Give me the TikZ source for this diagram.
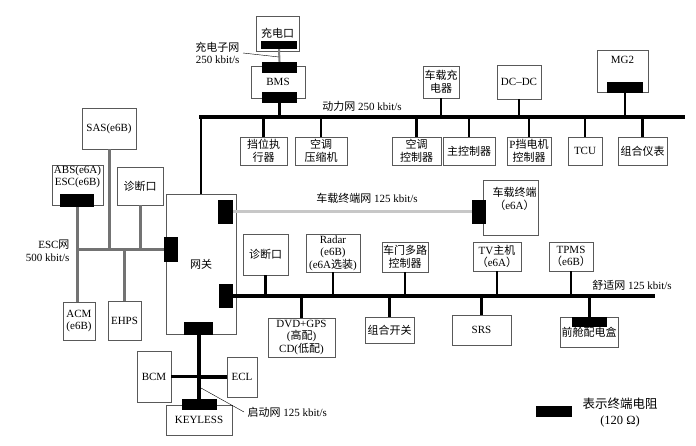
\documentclass[tikz,border=0pt]{standalone}
\usepackage{fontspec}
\setmainfont{Liberation Serif}
\newfontfamily\cjk{Noto Sans CJK SC}
\usepackage{tikz}

\begin{document}
\begin{tikzpicture}[x=1pt, y=-1pt,
    every node/.style = {font=\fontsize{11}{12.5}\selectfont},
    box/.style = {draw=black!65, line width=0.8pt, align=center, inner sep=0pt},
    sz/.style 2 args = {minimum width=#1, minimum height=#2},
    term/.style = {fill=black, inner sep=0pt},
    bus/.style = {line width=3.6pt},
    drop/.style = {line width=2.8pt},
    escbus/.style = {line width=3.6pt, black!55},
    escdrop/.style = {line width=3pt, black!55},
    tnet/.style = {line width=3pt, black!22},
    lbl/.style = {align=center}]
    \useasboundingbox (0,0) rectangle (696,446);
    % charging net
    \node[box, sz={43}{35}] (chg) at (277.5,33.5) {\cjk 充电口};
    \node[term, sz={36}{8}] (chgT) at (279,45) {};
    \node[box, sz={54}{32}] (bms) at (278,82) {BMS};
    \node[term, sz={35}{11}] (bmsT1) at (279.5,67.5) {};
    \node[term, sz={35}{11}] (bmsT2) at (279.5,97.5) {};
    \node[lbl, align=right, anchor=east] (chglbl) at (243,53) {{\cjk 充电子网}\\250 kbit/s};
    \coordinate (chgmid) at (279,57);
    \draw[line width=2pt, black!50] (chgT.south) -- (bmsT1.north);
    \draw[thin] (chglbl.east) -- (chgmid);
    % power net
    \coordinate (pwrL) at (199,117);
    \coordinate (pwrR) at (685,117);
    \node[lbl] (pwrlbl) at (362,106) {{\cjk 动力网} 250 kbit/s};
    \node[box, sz={36}{32}] (obc) at (441,82) {\cjk 车载充\\\cjk 电器};
    \node[box, sz={44}{34}] (dcdc) at (519,82) {DC--DC};
    \node[box, sz={51}{42}] (mg2) at (622.5,71) {MG2\\[10pt]};
    \node[term, sz={36}{11}] (mg2T) at (625,87.5) {};
    \node[box, sz={47}{28}] (gear) at (263.5,151) {\cjk 挡位执\\\cjk 行器};
    \node[box, sz={52}{28}] (acc) at (321,151) {\cjk 空调\\\cjk 压缩机};
    \node[box, sz={49}{28}] (acctl) at (416.5,151) {\cjk 空调\\\cjk 控制器};
    \node[box, sz={52}{28}] (mcu) at (469,151) {\cjk 主控制器};
    \node[box, sz={44}{28}] (pgear) at (529,151) {P{\cjk 挡电机}\\\cjk 控制器};
    \node[box, sz={34}{28}] (tcu) at (585,151) {TCU};
    \node[box, sz={49}{28}] (cluster) at (642.5,151) {\cjk 组合仪表};
    \draw[bus] (pwrL) -- (pwrR);
    \draw[drop] (bmsT2.south) -- (bmsT2.south |- pwrL);
    \draw[drop] (obc.south) -- (obc.south |- pwrL);
    \draw[drop] (dcdc.south) -- (dcdc.south |- pwrL);
    \draw[drop] (mg2T.south) -- (mg2T.south |- pwrL);
    \draw[drop] (gear.north) -- (gear.north |- pwrL);
    \draw[drop] (acc.north) -- (acc.north |- pwrL);
    \draw[drop] (acctl.north) -- (acctl.north |- pwrL);
    \draw[drop] (mcu.north) -- (mcu.north |- pwrL);
    \draw[drop] (pgear.north) -- (pgear.north |- pwrL);
    \draw[drop] (tcu.north) -- (tcu.north |- pwrL);
    \draw[drop] (cluster.north) -- (cluster.north |- pwrL);
    % gateway
    \node[box, sz={70}{140}] (gw) at (201,264) {\cjk 网关};
    \node[term, sz={14}{25}] (gwL) at (171,249.5) {};
    \node[term, sz={15}{24}] (gwT1) at (225.5,212) {};
    \node[term, sz={14}{24}] (gwT2) at (226,296) {};
    \node[term, sz={29}{13}] (gwB) at (198.5,328.5) {};
    \draw[drop] (gw.north) -- (gw.north |- pwrL);
    % ESC net
    \coordinate (escL) at (76,249.5);
    \node[box, sz={54}{41}] (sas) at (109,128.5) {SAS(e6B)};
    \node[box, sz={51}{40}] (abs) at (77.5,185) {ABS(e6A)\\ESC(e6B)\\[6pt]};
    \node[term, sz={34}{13}] (absT) at (77,200.5) {};
    \node[box, sz={46}{38}] (diag1) at (140,186) {\cjk 诊断口};
    \node[box, sz={32}{38}] (acm) at (79,321) {ACM\\(e6B)};
    \node[box, sz={33}{39}] (ehps) at (124.5,320.5) {EHPS};
    \node[lbl, align=right, anchor=east] (esclbl) at (73,251) {ESC{\cjk 网}\\500 kbit/s};
    \draw[escbus] (escL) -- (escL -| gwL.west);
    \draw[escdrop] (absT.south) -- (absT.south |- acm.north);
    \draw[escdrop] (sas.south) -- (sas.south |- escL);
    \draw[escdrop] (diag1.south) -- (diag1.south |- escL);
    \draw[escdrop] (ehps.north) -- (ehps.north |- escL);
    % telematics net
    \node[box, sz={55}{55}] (tbox) at (510.5,207.5) {\hspace*{8pt}{\cjk 车载终端}\\\hspace*{8pt}{\cjk （}e6A{\cjk ）}\\[6pt]};
    \node[term, sz={14}{24}] (tboxT) at (479,212) {};
    \node[lbl] (tnetlbl) at (367,198) {{\cjk 车载终端网} 125 kbit/s};
    \draw[tnet] (gwT1.east) -- (tboxT.west);
    % comfort net
    \coordinate (comfR) at (655,296);
    \node[lbl] (comflbl) at (632,285) {{\cjk 舒适网} 125 kbit/s};
    \node[box, sz={45}{41}] (diag2) at (265.5,254.5) {\cjk 诊断口};
    \node[box, sz={54}{38}] (radar) at (333,253) {Radar\\(e6B)\\(e6A{\cjk 选装})};
    \node[box, sz={46}{30}] (door) at (405,257) {\cjk 车门多路\\\cjk 控制器};
    \node[box, sz={48}{29}] (tv) at (497,256.5) {TV{\cjk 主机}\\{\cjk （}e6A{\cjk ）}};
    \node[box, sz={44}{29}] (tpms) at (571,256.5) {TPMS\\{\cjk （}e6B{\cjk ）}};
    \node[box, sz={67}{39}] (dvd) at (301.5,337.5) {DVD+GPS\\({\cjk 高配})\\CD({\cjk 低配})};
    \node[box, sz={49}{26}] (switch) at (389.5,330) {\cjk 组合开关};
    \node[box, sz={59}{30}] (srs) at (481.5,330) {SRS};
    \node[box, sz={58}{30}] (fuse) at (589,332) {\\[-2pt]\cjk 前舱配电盒};
    \node[term, sz={35}{10}] (fuseT) at (589.5,322) {};
    \draw[bus] (gwT2.east) -- (comfR);
    \draw[drop] (diag2.south) -- (diag2.south |- comfR);
    \draw[drop] (radar.south) -- (radar.south |- comfR);
    \draw[drop] (door.south) -- (door.south |- comfR);
    \draw[drop] (tv.south) -- (tv.south |- comfR);
    \draw[drop] (tpms.south) -- (tpms.south |- comfR);
    \draw[drop] (dvd.north) -- (dvd.north |- comfR);
    \draw[drop] (switch.north) -- (switch.north |- comfR);
    \draw[drop] (srs.north) -- (srs.north |- comfR);
    \draw[drop] (fuseT.north) -- (fuseT.north |- comfR);
    % start net
    \node[box, sz={34}{51}] (bcm) at (154,376.5) {BCM};
    \node[box, sz={30}{40}] (ecl) at (242,377) {ECL};
    \node[box, sz={66}{30}] (keyless) at (199,420) {KEYLESS};
    \node[term, sz={35}{11}] (keyT) at (199.5,404.5) {};
    \node[lbl, anchor=west] (startlbl) at (244,412) {{\cjk 启动网} 125 kbit/s};
    \coordinate (startpt) at (201,388);
    \draw[line width=4pt] (gwB.south) -- (gwB.south |- keyT.north);
    \draw[bus] (bcm.east) -- (bcm.east -| gwB.south);
    \draw[bus] (ecl.west) -- (ecl.west -| gwB.south);
    \draw[thin] (startpt) -- (startlbl.west);
    % legend
    \node[term, sz={36}{11}] (legT) at (554,411.5) {};
    \node[lbl, font=\fontsize{12.5}{16}\selectfont] (leglbl) at (620,412.5) {\cjk 表示终端电阻\\(120 Ω)};
\end{tikzpicture}
\end{document}
